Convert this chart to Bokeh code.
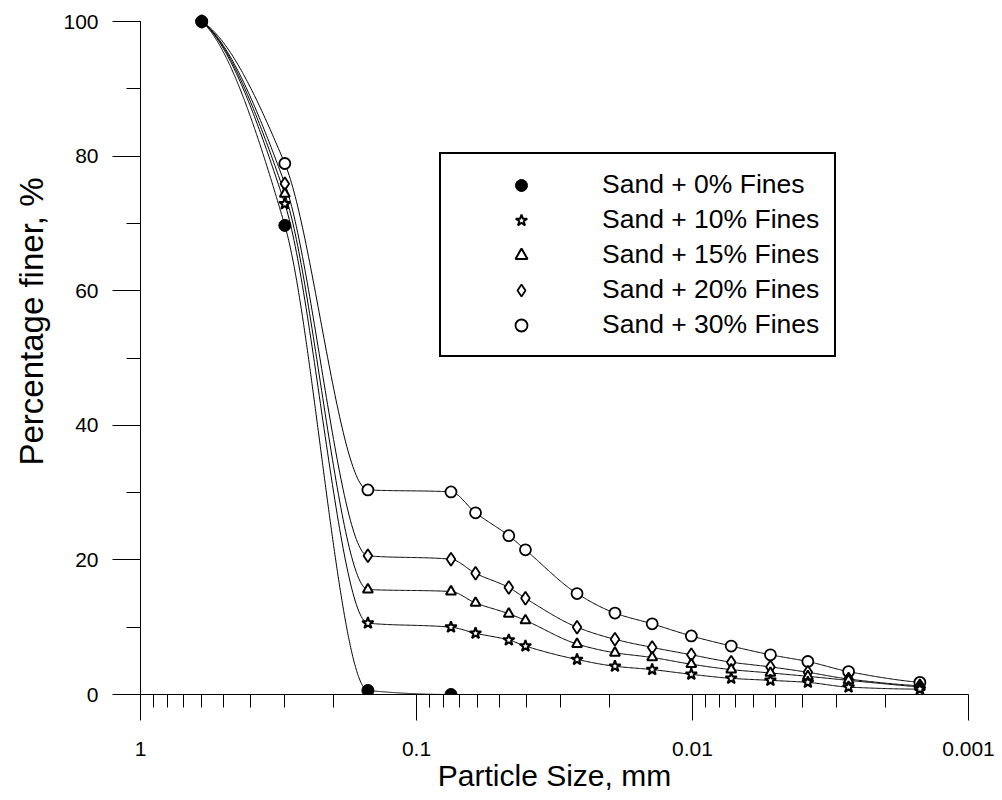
import numpy as np
from bokeh.plotting import figure
from bokeh.models import (Range1d, SingleIntervalTicker, FixedTicker, Legend, LegendItem,
                          ColumnDataSource, CustomJSTickFormatter, Title)
from bokeh.embed import file_html
from bokeh.resources import INLINE

# ---------------- data ----------------
particle_size_mm = [0.6, 0.3, 0.15, 0.075, 0.0611, 0.0463, 0.0403, 0.0262,
                    0.0191, 0.0140, 0.0101, 0.00724, 0.00522, 0.00382, 0.00272, 0.0015]
sand0_size_mm = [0.6, 0.3, 0.15, 0.075]
sand0_finer = [100.0, 69.7, 0.6, 0.0]
sand10_finer = [100.0, 72.9, 10.6, 10.0, 9.1, 8.1, 7.2, 5.2, 4.2, 3.7, 3.0, 2.4, 2.1, 1.8, 1.1, 0.8]
sand15_finer = [100.0, 74.4, 15.6, 15.3, 13.6, 12.0, 11.0, 7.5, 6.2, 5.5, 4.5, 3.7, 3.2, 2.7, 2.1, 1.1]
sand20_finer = [100.0, 75.9, 20.6, 20.1, 18.0, 15.9, 14.3, 10.0, 8.2, 7.0, 5.9, 4.8, 4.1, 3.3, 2.3, 1.3]
sand30_finer = [100.0, 78.9, 30.4, 30.1, 27.0, 23.6, 21.5, 15.0, 12.1, 10.5, 8.7, 7.2, 5.9, 4.9, 3.4, 1.8]

series_labels = ["Sand + 0% Fines", "Sand + 10% Fines", "Sand + 15% Fines",
                 "Sand + 20% Fines", "Sand + 30% Fines"]

x_ticks = [1.0, 0.1, 0.01, 0.001]
x_tick_labels = ["1", "0.1", "0.01", "0.001"]
x_minor_mantissas = [2, 3, 4, 5, 6, 7, 8, 9]
y_ticks_interval = 20
x_title = "Particle Size, mm"
y_title = "Percentage finer, %"

# ---------------- layout ----------------
W, H = 1002, 800
B_LEFT, B_RIGHT, B_TOP, B_BOTTOM = 140, 34, 10, 106
X_START, X_END = 1.0, 0.001
UNIT_PX = (H - B_TOP - B_BOTTOM - 11) / 100.0
Y_MAX = 100 + 11 / UNIT_PX
Y_MIN = 0.0
FONT = "Liberation Sans"


def smooth_curve(sizes, finer, n=600):
    """Shape-preserving (PCHIP) cubic through the measured points, in log(size)."""
    u = -np.log10(np.asarray(sizes, float))
    y = np.asarray(finer, float)
    h = np.diff(u)
    d = np.diff(y) / h
    m = np.zeros_like(y)
    for k in range(1, len(y) - 1):
        if d[k - 1] * d[k] > 0:
            w1 = 2 * h[k] + h[k - 1]
            w2 = h[k] + 2 * h[k - 1]
            m[k] = (w1 + w2) / (w1 / d[k - 1] + w2 / d[k])

    def edge(h0, h1, d0, d1):
        e = ((2 * h0 + h1) * d0 - h0 * d1) / (h0 + h1)
        if np.sign(e) != np.sign(d0):
            e = 0.0
        elif np.sign(d0) != np.sign(d1) and abs(e) > 3 * abs(d0):
            e = 3 * d0
        return e

    m[0] = edge(h[0], h[1], d[0], d[1])
    m[-1] = edge(h[-1], h[-2], d[-1], d[-2])
    uu = np.linspace(u[0], u[-1], n)
    idx = np.clip(np.searchsorted(u, uu, side="right") - 1, 0, len(u) - 2)
    s = (uu - u[idx]) / h[idx]
    h00 = 2 * s ** 3 - 3 * s ** 2 + 1
    h10 = s ** 3 - 2 * s ** 2 + s
    h01 = -2 * s ** 3 + 3 * s ** 2
    h11 = s ** 3 - s ** 2
    yy = (h00 * y[idx] + h10 * h[idx] * m[idx] + h01 * y[idx + 1] + h11 * h[idx] * m[idx + 1])
    return 10 ** (-uu), yy


p = figure(width=W, height=H, x_axis_type="log",
           x_range=Range1d(X_START, X_END), y_range=Range1d(Y_MIN, Y_MAX),
           output_backend="svg", toolbar_location=None,
           min_border_left=B_LEFT, min_border_right=B_RIGHT,
           min_border_top=B_TOP, min_border_bottom=B_BOTTOM)
p.outline_line_color = None
p.grid.visible = False
p.background_fill_color = "white"
p.border_fill_color = "white"

all_sizes = [sand0_size_mm, particle_size_mm, particle_size_mm, particle_size_mm, particle_size_mm]
all_finer = [sand0_finer, sand10_finer, sand15_finer, sand20_finer, sand30_finer]

for s, f in zip(all_sizes, all_finer):
    cx, cy = smooth_curve(s, f)
    p.line(cx, cy, line_color="black", line_width=1)

marker_specs = [
    dict(marker="circle", size=12, fill_color="black", line_color="black", line_width=1),
    dict(marker="star", size=12, fill_color="white", line_color="black", line_width=2),
    dict(marker="triangle", size=10, fill_color="white", line_color="black", line_width=2),
    dict(marker="diamond", size=13, fill_color="white", line_color="black", line_width=1.8),
    dict(marker="circle", size=11, fill_color="white", line_color="black", line_width=1.8),
]
renderers = [None] * 5
for i in [4, 3, 2, 1, 0]:
    src = ColumnDataSource(dict(x=all_sizes[i], y=all_finer[i]))
    renderers[i] = p.scatter("x", "y", source=src, **marker_specs[i])

# axes
xa = p.xaxis[0]
xa.ticker = FixedTicker(ticks=x_ticks,
                        minor_ticks=[m * t for t in x_ticks[1:] for m in x_minor_mantissas])
xa.formatter = CustomJSTickFormatter(args=dict(tick_values=x_ticks, tick_texts=x_tick_labels), code="""
    let best = 0;
    for (let i = 0; i < tick_values.length; i++) {
        if (Math.abs(Math.log10(tick_values[i] / tick)) < Math.abs(Math.log10(tick_values[best] / tick))) best = i;
    }
    return tick_texts[best];
""")
xa.axis_label = x_title

ya = p.yaxis[0]
ya.ticker = SingleIntervalTicker(interval=y_ticks_interval, num_minor_ticks=2)
ya.bounds = (0, 100)

for ax, tick_out in ((xa, 26), (ya, 28)):
    ax.axis_line_color = "black"
    ax.axis_line_width = 1
    ax.major_tick_line_color = "black"
    ax.minor_tick_line_color = "black"
    ax.major_tick_in = 0
    ax.minor_tick_in = 0
    ax.major_tick_out = tick_out
    ax.minor_tick_out = tick_out // 2
    ax.major_label_text_font = FONT
    ax.major_label_text_font_size = "21px"
    ax.major_label_text_color = "black"
    ax.axis_label_text_font = FONT
    ax.axis_label_text_font_size = "30px"
    ax.axis_label_text_font_style = "normal"
    ax.axis_label_text_color = "black"

xa.major_label_standoff = 21
xa.axis_label_standoff = 0
ya.major_label_standoff = 14

# y-axis title (sits a little above the frame centre, like the reference)
p.add_layout(Title(text=y_title, align="left", offset=229, standoff=21,
                   text_font=FONT, text_font_size="33px", text_font_style="normal",
                   text_color="black"), "left")

legend = Legend(
    items=[LegendItem(label=lab, renderers=[r]) for lab, r in zip(series_labels, renderers)],
    location=(299, 337), padding=15, spacing=4, margin=0,
    glyph_width=130, glyph_height=30, label_height=30, label_standoff=16,
    label_text_font=FONT, label_text_font_size="26.5px", label_text_color="black",
    border_line_color="black", border_line_width=2, border_line_alpha=1,
    background_fill_color="white", background_fill_alpha=1,
)
p.add_layout(legend)

open("out.html", "w").write(file_html(p, INLINE))
